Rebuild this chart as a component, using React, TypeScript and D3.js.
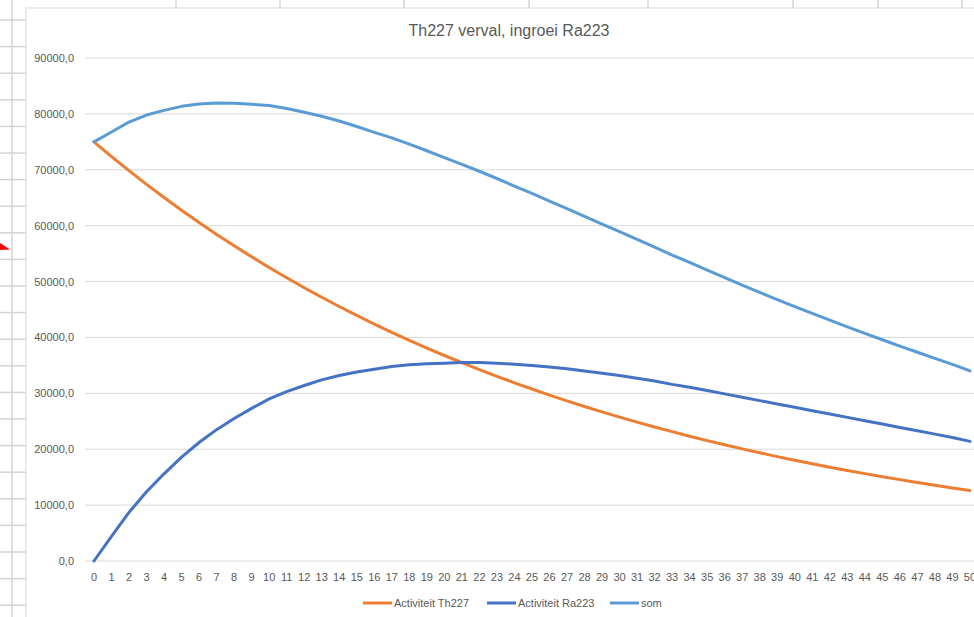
import { useEffect, useRef } from "react";
import * as d3 from "d3";

// dagen 0..50
var dagen = d3.range(0, 51).map(String);

var th227 = [75000, 72370, 69840, 67390, 65030, 62750, 60560, 58440, 56390, 54420,
    52510, 50670, 48900, 47190, 45530, 43940, 42400, 40920, 39480, 38100,
    36770, 35480, 34240, 33040, 31880, 30770, 29690, 28650, 27650, 26680,
    25750, 24840, 23970, 23140, 22330, 21540, 20790, 20060, 19360, 18680,
    18030, 17400, 16790, 16200, 15630, 15090, 14560, 14050, 13560, 13080, 12620];

var ra223 = [0, 4400, 8700, 12400, 15600, 18600, 21200, 23500, 25500, 27300,
    29000, 30300, 31400, 32400, 33200, 33800, 34300, 34800, 35100, 35300,
    35400, 35500, 35500, 35400, 35200, 35000, 34700, 34400, 34000, 33600,
    33200, 32700, 32200, 31600, 31100, 30500, 29900, 29300, 28700, 28100,
    27500, 26900, 26300, 25700, 25100, 24500, 23900, 23300, 22700, 22100, 21400];

var som = [75000, 76770, 78540, 79790, 80630, 81350, 81760, 81940, 81890, 81720,
    81510, 80970, 80300, 79590, 78730, 77740, 76700, 75720, 74580, 73400,
    72170, 70980, 69740, 68440, 67080, 65770, 64390, 63050, 61650, 60280,
    58950, 57540, 56170, 54740, 53430, 52040, 50690, 49360, 48060, 46780,
    45530, 44300, 43090, 41900, 40730, 39590, 38460, 37350, 36260, 35180, 34020];

var yTicks = [0, 10000, 20000, 30000, 40000, 50000, 60000, 70000, 80000, 90000];

var series = [
    { name: "Activiteit Th227", values: th227, color: "#ED7D31" },
    { name: "Activiteit Ra223", values: ra223, color: "#4472C4" },
    { name: "som", values: som, color: "#5B9BD5" },
];

// kolomlijnen en rijlijnen van het werkblad achter de grafiek
var colLines = [12, 176, 280, 404, 529, 648, 793, 878, 962];
var rowLines = d3.range(0, 23).map(function (k) { return 20 + k * 26.6; });

var W = 974, H = 617;
var font = "'Liberation Sans', Arial, sans-serif";
var textColor = "#595959";

function App() {
    const ref = useRef<SVGSVGElement>(null);

    useEffect(() => {
        var svg = d3.select(ref.current);
        svg.selectAll("*").remove();

        // werkblad
        svg.append("rect").attr("width", W).attr("height", H).attr("fill", "#fff");
        var sheet = svg.append("g").attr("stroke", "#d4d4d4").attr("stroke-width", 1.5);
        rowLines.forEach(function (y) {
            sheet.append("line").attr("x1", 0).attr("x2", 26).attr("y1", y).attr("y2", y);
        });
        colLines.forEach(function (x) {
            sheet.append("line").attr("x1", x).attr("x2", x).attr("y1", 0).attr("y2", x < 26 ? H : 8);
        });
        svg.append("polygon")
            .attr("points", "0,243 10,249.5 0,250")
            .attr("fill", "#ff0000");

        // grafiekgebied
        svg.append("rect")
            .attr("x", 26).attr("y", 8)
            .attr("width", W).attr("height", H)
            .attr("fill", "#fff")
            .attr("stroke", "#d9d9d9").attr("stroke-width", 1);

        svg.append("text")
            .attr("x", 509).attr("y", 36)
            .attr("text-anchor", "middle")
            .attr("font-family", font).attr("font-size", 16)
            .attr("fill", textColor)
            .text("Th227 verval, ingroei Ra223");

        var x = d3.scaleBand().domain(dagen).range([85.2, 85.2 + 51 * 17.52]);
        var y = d3.scaleLinear().domain([0, 90000]).range([561, 58]);
        var cx = function (i: number) { return (x(dagen[i]) as number) + x.bandwidth() / 2; };

        var nl = d3.formatLocale({ decimal: ",", thousands: ".", grouping: [3], currency: ["€", ""] });
        var fmt = nl.format(".1f");

        // rasterlijnen + y-as
        var grid = svg.append("g");
        yTicks.forEach(function (t) {
            grid.append("line")
                .attr("x1", 85).attr("x2", W)
                .attr("y1", y(t)).attr("y2", y(t))
                .attr("stroke", "#d9d9d9").attr("stroke-width", 1);
            grid.append("text")
                .attr("x", 74).attr("y", y(t) + 4)
                .attr("text-anchor", "end")
                .attr("font-family", font).attr("font-size", 11)
                .attr("fill", textColor)
                .text(fmt(t));
        });

        // x-as labels
        dagen.forEach(function (d, i) {
            svg.append("text")
                .attr("x", cx(i)).attr("y", 581)
                .attr("text-anchor", "middle")
                .attr("font-family", font).attr("font-size", 11)
                .attr("fill", textColor)
                .text(d);
        });

        // lijnen
        series.forEach(function (s) {
            svg.append("path")
                .datum(s.values)
                .attr("fill", "none")
                .attr("stroke", s.color)
                .attr("stroke-width", 3)
                .attr("stroke-linejoin", "round")
                .attr("stroke-linecap", "round")
                .attr("d", d3.line<number>()
                    .x(function (d, i) { return cx(i); })
                    .y(function (d) { return y(d); }));
        });

        // legenda
        var legendX = [363, 487, 610];
        series.forEach(function (s, i) {
            var g = svg.append("g").attr("transform", "translate(" + legendX[i] + ", 603)");
            g.append("line")
                .attr("x1", 0).attr("x2", 29)
                .attr("stroke", s.color).attr("stroke-width", 3);
            g.append("text")
                .attr("x", 31).attr("y", 4)
                .attr("font-family", font).attr("font-size", 11)
                .attr("fill", textColor)
                .text(s.name);
        });
    });

    return (
        <svg ref={ref} width={W} height={H}
            style={{ position: "absolute", left: 0, top: 0, display: "block" }}></svg>
    );
}

export default App;
